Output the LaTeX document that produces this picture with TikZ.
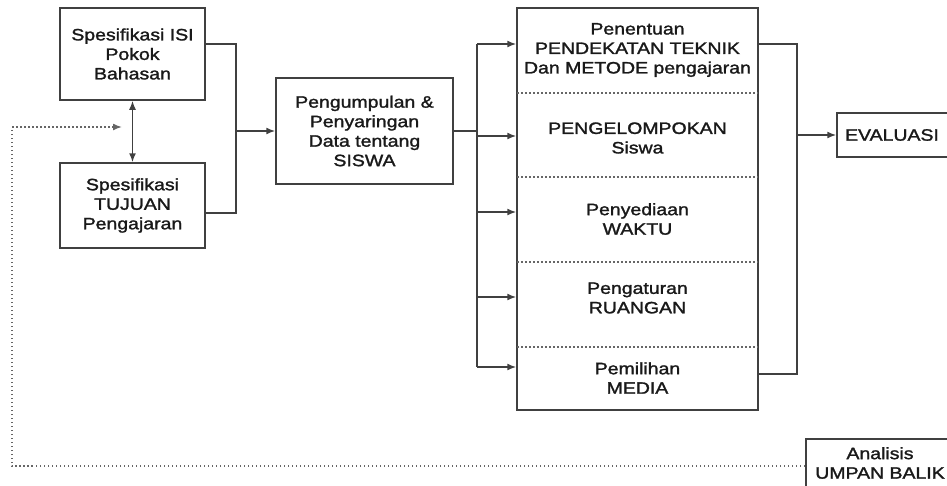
\documentclass[tikz,border=0pt]{standalone}
\usepackage{fontspec}
\setmainfont{Liberation Sans}[FakeStretch=1.18,FakeBold=1.6]
\usetikzlibrary{arrows.meta}
\tikzset{
  box/.style={draw=black!75, line width=1.5pt, inner sep=0pt, align=center, text=black!90},
  txt/.style={inner sep=0pt, align=center, text=black!90},
  line/.style={draw=black!75, line width=1.5pt},
  tip/.tip={Latex[length=9pt,width=7pt]},
  arr/.style={line, -tip},
  darr/.style={line, tip-tip},
  sep/.style={draw=black!60, line width=1.5pt, dash pattern=on 1.5pt off 2.5pt},
  fb/.style={draw=black!60, line width=1.5pt, dash pattern=on 1.5pt off 2.5pt},
  fbarr/.style={fb, -tip}
}
\begin{document}
\begin{tikzpicture}[x=1pt,y=-1pt,font=\fontsize{16.5}{19.5}\selectfont]
\useasboundingbox (0,0) rectangle (947,485);
\clip (0,0) rectangle (947,485);
% left boxes
\node[box, minimum width=145pt, minimum height=92pt] (A) at (132.5,54) {Spesifikasi ISI\\Pokok\\Bahasan};
\node[box, minimum width=145pt, minimum height=85pt] (B) at (132.5,205.5) {Spesifikasi\\TUJUAN\\Pengajaran};
\node[box, minimum width=177pt, minimum height=106pt] (C) at (364.5,131) {Pengumpulan \&\\Penyaringan\\Data tentang\\SISWA};
% big box
\node[box, minimum width=241pt, minimum height=402pt] (D) at (637.5,209) {};
\node[txt] (S1) at (637.5,50) {Penentuan\\PENDEKATAN TEKNIK\\Dan METODE pengajaran};
\node[txt] (S2) at (637.5,138) {PENGELOMPOKAN\\Siswa};
\node[txt] (S3) at (637.5,219) {Penyediaan\\WAKTU};
\node[txt] (S4) at (637.5,298) {Pengaturan\\RUANGAN};
\node[txt] (S5) at (637.5,378) {Pemilihan\\MEDIA};
\draw[sep] (517,93) -- (758,93);
\draw[sep] (517,177) -- (758,177);
\draw[sep] (517,262) -- (758,262);
\draw[sep] (517,347) -- (758,347);
% right boxes
\node[box, minimum width=120pt, minimum height=44pt, text width=120pt] (E) at (897,135) {EVALUASI\hspace*{10pt}};
\node[box, minimum width=150pt, minimum height=64pt, anchor=north west] (F) at (805,438) {};
\node[txt] (Ft) at (880,463) {Analisis\\UMPAN BALIK};
% connectors left
\draw[darr] (A.south) -- (B.north);
\coordinate (j1) at (236,131);
\draw[line] ([yshift=10pt]A.east) -| (j1) |- ([yshift=-7.5pt]B.east);
\draw[arr] (j1) -- (C.west);
% bus to big box
\coordinate (j2) at (477,131);
\coordinate (bt) at (477,44);
\coordinate (bb) at (477,367);
\draw[line] (C.east) -- (j2);
\draw[line] (bt) -- (bb);
\draw[arr] (bt) -- (D.west |- bt);
\coordinate (b2) at (477,136);
\draw[arr] (b2) -- (D.west |- b2);
\coordinate (b3) at (477,212);
\draw[arr] (b3) -- (D.west |- b3);
\coordinate (b4) at (477,297);
\draw[arr] (b4) -- (D.west |- b4);
\draw[arr] (bb) -- (D.west |- bb);
% right connector
\coordinate (r1) at (797,44);
\coordinate (r2) at (797,374);
\coordinate (r3) at (797,135);
\draw[line] (D.east |- r1) -- (r1) -- (r2) -- (D.east |- r2);
\draw[arr] (r3) -- (E.west);
% feedback
\coordinate (f1) at (12,466);
\coordinate (f2) at (12,127);
\coordinate (f3) at (122,127);
\draw[fbarr] (F.west |- f1) -- (f1) -- (f2) -- (f3);
\end{tikzpicture}
\end{document}
